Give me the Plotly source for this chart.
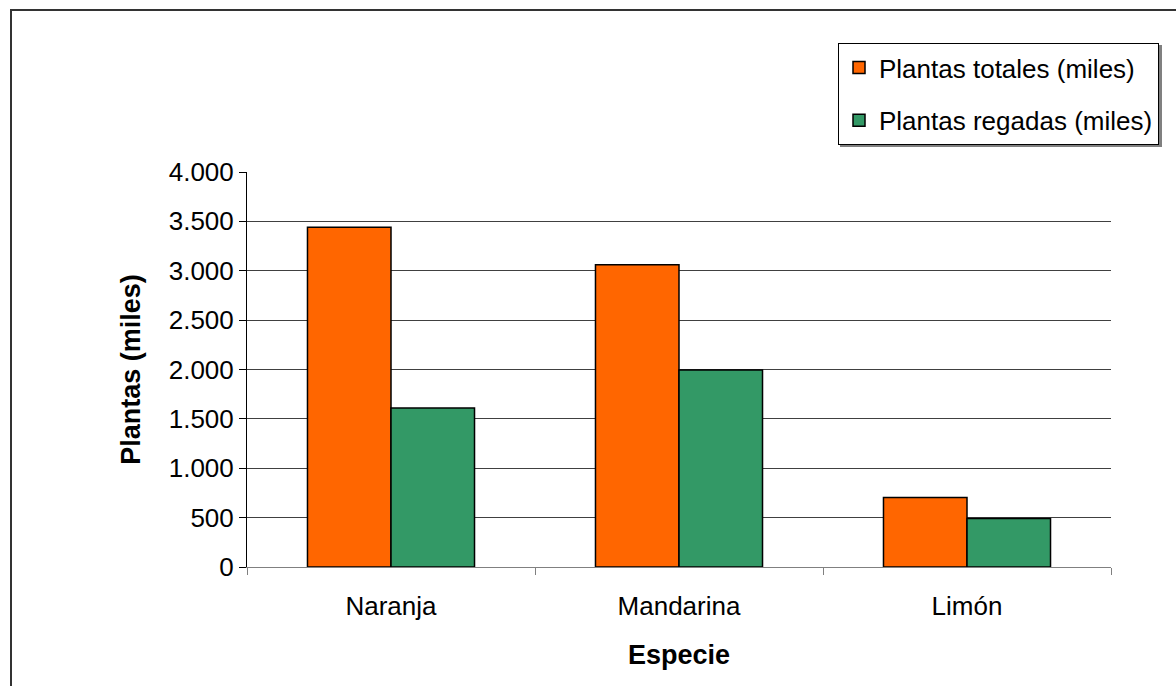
import plotly.graph_objects as go

# Citrus plantations by species (thousands of plants)
especies = ["Naranja", "Mandarina", "Limón"]
plantas_totales = [3440, 3060, 705]
plantas_regadas = [1610, 1995, 490]
serie_totales = "Plantas totales (miles)"
serie_regadas = "Plantas regadas (miles)"
y_ticks = [0, 500, 1000, 1500, 2000, 2500, 3000, 3500, 4000]

FONT = "Liberation Sans, Arial, sans-serif"
W, H = 1176, 686
L, R, T, B = 247, 65, 172, 119
PW, PH = W - L - R, H - T - B


def px_x(px):
    return (px - L) / PW


def px_y(py):
    return (H - B - py) / PH


fig = go.Figure()
fig.add_trace(go.Bar(
    x=especies, y=plantas_totales, name=serie_totales,
    marker=dict(color="#FF6600", line=dict(color="#000000", width=1.5)),
    legendgroup="a",
))
fig.add_trace(go.Bar(
    x=especies, y=plantas_regadas, name=serie_regadas,
    marker=dict(color="#339966", line=dict(color="#000000", width=1.5)),
    legendgroup="b",
))

fig.update_layout(
    width=W, height=H,
    margin=dict(l=L, r=R, t=T, b=B, pad=0),
    paper_bgcolor="white", plot_bgcolor="white",
    font=dict(family=FONT, size=26, color="#000000"),
    separators=",.",
    barmode="group", bargap=0.42, bargroupgap=0,
    showlegend=True,
    legend=dict(
        x=px_x(838), y=px_y(43), xanchor="left", yanchor="top",
        bgcolor="white", bordercolor="#000000", borderwidth=1,
        font=dict(family=FONT, size=26, color="#000000"),
        traceorder="grouped", tracegroupgap=16,
    ),
    xaxis=dict(
        showline=True, linecolor="#808080", linewidth=1,
        ticks="outside", tickson="boundaries", ticklen=7, tickcolor="#808080",
        showgrid=False, zeroline=False,
        tickfont=dict(family=FONT, size=26), ticklabelstandoff=16,
        title=dict(text="<b>Especie</b>", font=dict(family=FONT, size=27), standoff=24),
    ),
    yaxis=dict(
        range=[0, 4000], tickvals=y_ticks, tickformat=",.0f",
        showline=True, linecolor="#000000", linewidth=1,
        ticks="outside", ticklen=7, tickcolor="#000000",
        showgrid=True, gridcolor="#404040", gridwidth=1, zeroline=False,
        tickfont=dict(family=FONT, size=26),
        title=dict(text="<b>Plantas (miles)</b>", font=dict(family=FONT, size=27), standoff=20),
    ),
    shapes=[
        # chart-area frame, running off the right and bottom edges
        dict(type="rect", xref="paper", yref="paper",
             x0=px_x(11), y0=px_y(10), x1=px_x(1300), y1=px_y(800),
             line=dict(color="#333333", width=2), fillcolor="rgba(0,0,0,0)",
             layer="below"),
        # legend drop shadow
        dict(type="rect", xref="paper", yref="paper",
             x0=px_x(840), y0=px_y(45), x1=px_x(1162), y1=px_y(147),
             line=dict(width=0), fillcolor="#808080", layer="above"),
    ],
    annotations=[
        dict(text="<b>Plantas totales y plantas regadas (miles)</b>",
             xref="paper", yref="paper", x=px_x(842), y=px_y(2),
             xanchor="right", yanchor="bottom", showarrow=False,
             font=dict(family=FONT, size=18, color="#000000")),
    ],
)

fig.write_html("out.html")
